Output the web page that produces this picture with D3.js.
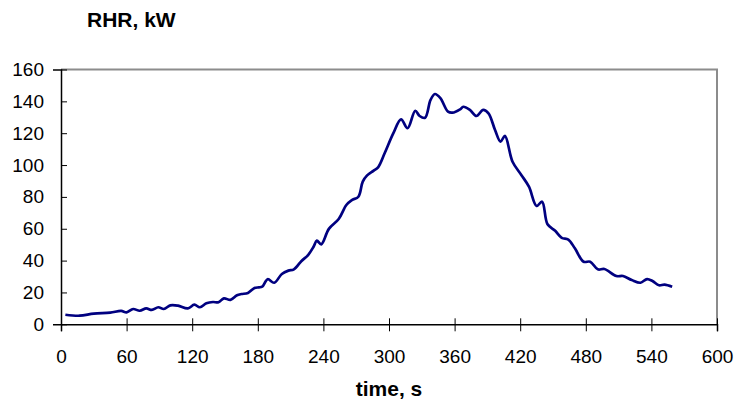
<!DOCTYPE html>
<html><head><meta charset="utf-8">
<script src="https://cdn.jsdelivr.net/npm/d3@7"></script>
<style>body{margin:0;background:#fff}svg{display:block}text{font-family:"Liberation Sans",Arial,sans-serif}</style>
</head><body><svg id="c" width="736" height="405"></svg>
<script>
const times = [4,17,30,45,55,60,66,72,78,83,89,94,100,107,116,122,127,133,139,144,149,155,161,165,171,177,181,184,189,195,202,208,213,220,226,231,234,238,245,254,261,266,272,276,280,286,290,296,304,311,317,324,328,333,338,342,347,354,358,365,368,374,380,386,391,397,402,406,413,421,428,435,440,445,452,458,464,470,478,484,491,497,508,514,522,530,536,541,547,552,559];
const rhr = [6,5.4,6.7,7.3,8.4,7.5,9.6,8.5,10,9,10.7,9.6,11.9,11.7,10,12.3,10.7,13.2,14,13.8,16.3,15.3,18.2,19,19.7,22.8,23.2,23.6,28.3,26.1,31.6,33.7,34.5,39.8,43.5,48.7,52.5,50.2,59.9,66.1,74.9,78,80.1,89.6,93.5,96.5,98.6,107.4,120,128.7,123.1,134.1,130.8,129.7,140.9,144.6,142,133.5,132.9,135,136.6,134.6,130.8,134.6,132.5,122,114.7,118.3,102.1,93.8,86.4,74.3,77,62.8,58.7,54.3,53.2,47.7,39.3,39.3,34.5,34.7,30.3,30.3,27.8,26.1,28.4,27.2,24.5,24.9,23.6];
const xTicks = [0,60,120,180,240,300,360,420,480,540,600];
const yTicks = [0,20,40,60,80,100,120,140,160];
const yTitle = "RHR, kW", xTitle = "time, s";

const svg = d3.select("#c");
const L = 61, R = 717, T = 69.5, B = 324.3;
const x = d3.scaleLinear().domain([0,600]).range([L,R]);
const y = d3.scaleLinear().domain([0,160]).range([B,T]);

svg.append("path").attr("d",`M${L},${T}H${R}V${B}`).attr("fill","none").attr("stroke","#8c8c8c").attr("stroke-width",2);

const xa = svg.append("g").attr("transform",`translate(0,${B})`)
  .call(d3.axisBottom(x).tickValues(xTicks).tickSize(7).tickPadding(18));
xa.selectAll(".tick line").attr("y1",-6).attr("stroke","#000");
xa.select(".domain").attr("stroke","#000").attr("stroke-width",1.5);
xa.selectAll("text").attr("font-size",19).attr("fill","#000");

const ya = svg.append("g").attr("transform",`translate(${L},0)`)
  .call(d3.axisLeft(y).tickValues(yTicks).tickSize(8).tickPadding(9));
ya.selectAll(".tick line").attr("x2",6).attr("stroke","#000");
ya.select(".domain").attr("stroke","#000").attr("stroke-width",1.5);
ya.selectAll("text").attr("font-size",19).attr("fill","#000");

const data = times.map((t,i)=>({t,v:rhr[i]}));
svg.append("path").datum(data)
  .attr("d", d3.line().x(d=>x(d.t)).y(d=>y(d.v)).curve(d3.curveCatmullRom.alpha(0.5)))
  .attr("fill","none").attr("stroke","#000080").attr("stroke-width",2.7).attr("stroke-linejoin","round");

svg.append("text").attr("x",87).attr("y",27).attr("font-size",21).attr("font-weight","bold").text(yTitle);
svg.append("text").attr("x",389).attr("y",396).attr("text-anchor","middle").attr("font-size",21).attr("font-weight","bold").text(xTitle);
</script></body></html>
